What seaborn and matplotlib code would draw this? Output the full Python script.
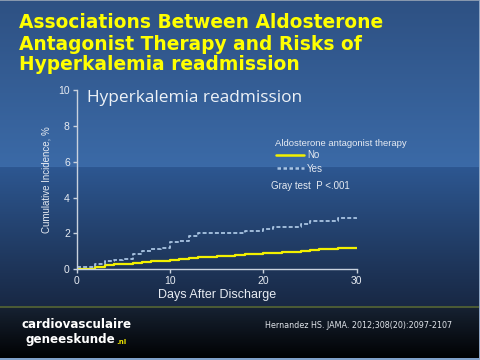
import matplotlib
matplotlib.use("Agg")
import matplotlib.pyplot as plt
import seaborn as sns
import numpy as np
import pandas as pd

# step-curve values (day, cumulative incidence %)
days_no = [0, 2, 3, 4, 6, 7, 8, 10, 11, 12, 13, 15, 17, 18, 20, 22, 24, 25, 26, 28, 30]
inc_no = [0.04, 0.13, 0.22, 0.28, 0.34, 0.39, 0.45, 0.50, 0.58, 0.64, 0.69, 0.75, 0.80,
          0.86, 0.92, 0.97, 1.01, 1.07, 1.12, 1.18, 1.18]
days_yes = [0, 2, 3, 4, 5, 6, 7, 8, 9, 10, 11, 12, 13, 18, 20, 21, 24, 25, 28, 30]
inc_yes = [0.15, 0.28, 0.47, 0.52, 0.58, 0.84, 1.03, 1.12, 1.21, 1.50, 1.57, 1.87, 2.04,
           2.14, 2.25, 2.36, 2.50, 2.72, 2.86, 2.90]
groups = ["No", "Yes"]
x_ticks = [0, 10, 20, 30]
y_ticks = [0, 2, 4, 6, 8, 10]

df = pd.concat([
    pd.DataFrame({"day": days_no, "inc": inc_no, "therapy": "No"}),
    pd.DataFrame({"day": days_yes, "inc": inc_yes, "therapy": "Yes"}),
])

sns.set_theme(style="white")
plt.rcParams["font.family"] = ["Liberation Sans", "DejaVu Sans"]


def vgrad(c1, c2, n):
    c1 = np.array(matplotlib.colors.to_rgb(c1))
    c2 = np.array(matplotlib.colors.to_rgb(c2))
    t = np.linspace(0, 1, n)[:, None]
    return c1 * (1 - t) + c2 * t


# slide background
H, W = 360, 480
rows = np.vstack([
    vgrad("#2e5183", "#3b6aa7", 167),
    vgrad("#2d5791", "#182844", 139),
    vgrad("#4a5a35", "#4a5a35", 2),
    vgrad("#162131", "#010203", 50),
    vgrad("#7fa0c8", "#7fa0c8", 2),
])
img = np.repeat(rows[:, None, :], W, axis=1)
img[0, :, :] = matplotlib.colors.to_rgb("#8797ad")
img[:, -1, :] = matplotlib.colors.to_rgb("#8fa6c4")

fig = plt.figure(figsize=(4.8, 3.6), dpi=100)
bg = fig.add_axes([0, 0, 1, 1], zorder=0)
bg.imshow(img, aspect="auto", interpolation="bilinear")
bg.axis("off")

ax = fig.add_axes([0.16, 0.252, 0.583, 0.498], zorder=1)
ax.set_facecolor("none")
sns.lineplot(data=df, x="day", y="inc", hue="therapy", hue_order=groups,
             palette={"No": "#f2f000", "Yes": "#a9c4e2"}, drawstyle="steps-post",
             ax=ax, legend=False)
ax.lines[0].set_linewidth(1.6)
ax.lines[1].set_linewidth(1.3)
ax.lines[1].set_dashes([2.2, 1.2])

ax.set_xlim(0, 30)
ax.set_ylim(0, 10)
ax.set_xticks(x_ticks)
ax.set_yticks(y_ticks)
sns.despine(ax=ax)
for s in ["left", "bottom"]:
    ax.spines[s].set_color("#c9d2de")
    ax.spines[s].set_linewidth(1.0)
ax.tick_params(colors="#c9d2de", labelcolor="#e6ebf2", labelsize=7.5, length=3,
               width=1, direction="out", left=True, bottom=True, pad=2)
ax.set_xlabel("Days After Discharge", color="#e6ebf2", fontsize=9, labelpad=2)
ax.set_ylabel("Cumulative Incidence, %", color="#e6ebf2", fontsize=7, labelpad=5)

ax.text(0.035, 0.955, "Hyperkalemia readmission", transform=ax.transAxes,
        color="#eef2f7", fontsize=12.4, family=["Open Sans", "DejaVu Sans"], va="center")

# legend
fig.text(275 / W, 1 - 144 / H, "Aldosterone antagonist therapy", color="#e6ebf2",
         fontsize=6.8, va="center")
fig.add_artist(plt.Line2D([276 / W, 304 / W], [1 - 155 / H, 1 - 155 / H],
                          color="#f2f000", lw=1.8))
fig.text(307 / W, 1 - 155.5 / H, "No", color="#e6ebf2", fontsize=7, va="center")
fig.add_artist(plt.Line2D([277 / W, 304 / W], [1 - 168 / H, 1 - 168 / H],
                          color="#a9c4e2", lw=1.8, dashes=[1.4, 1.0]))
fig.text(307 / W, 1 - 168.5 / H, "Yes", color="#e6ebf2", fontsize=7, va="center")
fig.text(271 / W, 1 - 186 / H, "Gray test  P <.001", color="#e6ebf2", fontsize=7,
         va="center")

# slide title
title_lines = ["Associations Between Aldosterone", "Antagonist Therapy and Risks of",
               "Hyperkalemia readmission"]
for i, line in enumerate(title_lines):
    fig.text(19 / W, 1 - (23 + 21 * i) / H, line, color="#ffff00", fontsize=13.4,
             fontweight="bold", family="DejaVu Sans", va="center")

# footer
fig.text(21 / W, 1 - 325 / H, "cardiovasculaire", color="white", fontsize=8.6,
         fontweight="bold", family="DejaVu Sans", va="center")
gk = fig.text(26 / W, 1 - 339 / H, "geneeskunde", color="white", fontsize=8.6,
              fontweight="bold", family="DejaVu Sans", va="center")
fig.canvas.draw()
gk_right = gk.get_window_extent().x1 / W
fig.text(gk_right + 0.5 / W, 1 - 341.5 / H, ".nl", color="#e8e000", fontsize=5,
         fontweight="bold", family="DejaVu Sans", va="center")
fig.text(265 / W, 1 - 325 / H, "Hernandez HS. JAMA. 2012;308(20):2097-2107",
         color="#e0e4ea", fontsize=5.8, family="DejaVu Sans", va="center")

fig.savefig("out.png", dpi=100)
